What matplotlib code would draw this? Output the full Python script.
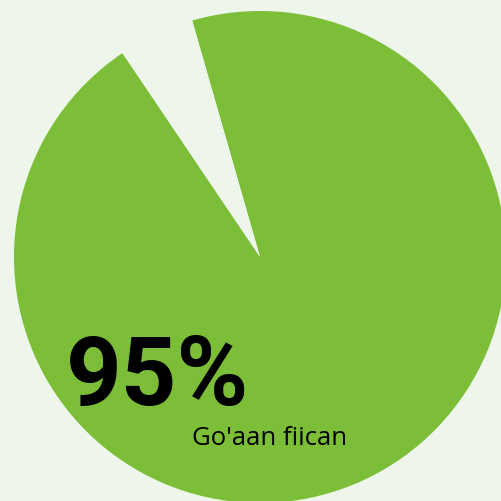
import matplotlib.pyplot as plt

# values
labels = ['Go\'aan fiican', '']
values = [95, 5]
pct_text = '95%'

BG = '#eef6eb'
GREEN = '#7cbe37'

fig = plt.figure(figsize=(5.01, 5.01), dpi=100, facecolor=BG)
ax = fig.add_axes([0, 0, 1, 1])
ax.set_facecolor(BG)

ax.pie(values, colors=[GREEN, BG], startangle=106, counterclock=False,
       center=(260, 244), radius=246, frame=True,
       wedgeprops=dict(linewidth=0))

ax.set_xlim(0, 501)
ax.set_ylim(0, 501)
ax.set_aspect('equal')
ax.axis('off')

ax.text(66, 96, pct_text, fontsize=70, fontweight='bold', family='Roboto',
        style='normal', color='black', ha='left', va='baseline')
ax.text(192, 56, labels[0], fontsize=18.5, family='Open Sans',
        color='black', ha='left', va='baseline')

fig.savefig('out.png', dpi=100, facecolor=BG)
